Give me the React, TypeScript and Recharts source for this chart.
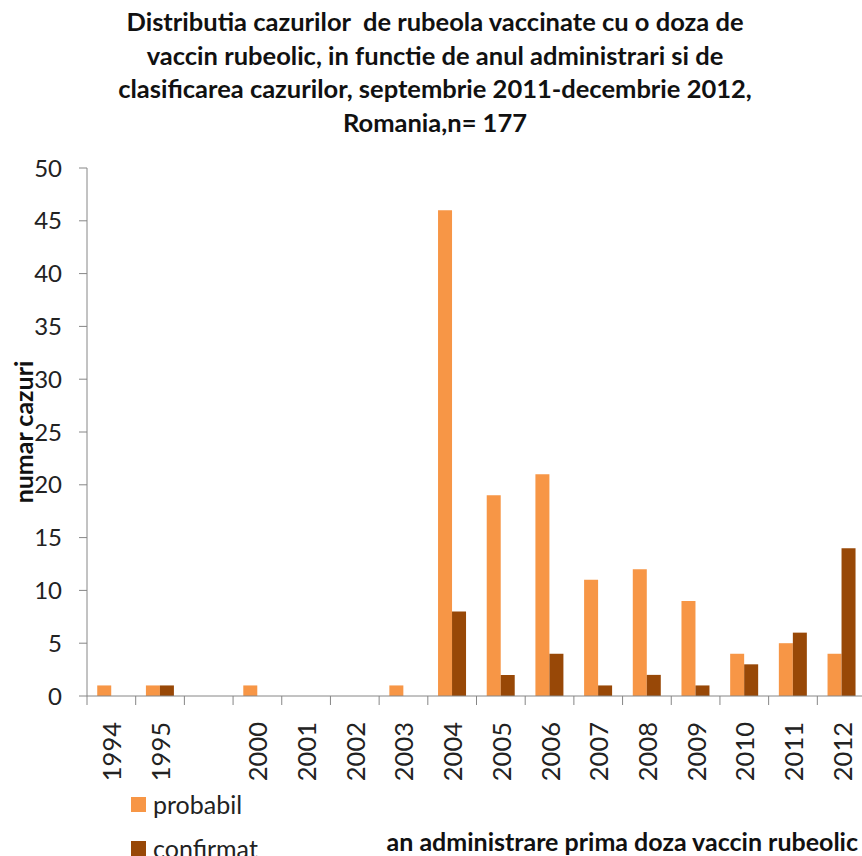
import { BarChart, Bar, XAxis, YAxis } from 'recharts';

const categories = ['1994', '1995', ' ', '2000', '2001', '2002', '2003', '2004', '2005', '2006', '2007', '2008', '2009', '2010', '2011', '2012'];
const probabil = [1, 1, null, 1, 0, 0, 1, 46, 19, 21, 11, 12, 9, 4, 5, 4];
const confirmat = [0, 1, null, 0, 0, 0, 0, 8, 2, 4, 1, 2, 1, 3, 6, 14];
const yTicks = [0, 5, 10, 15, 20, 25, 30, 35, 40, 45, 50];

const ORANGE = '#F79646';
const BROWN = '#984807';
const AXIS = '#868686';
const FONT = 'Lato, "Noto Sans", sans-serif';

const data = categories.map((an, i) => ({ an, probabil: probabil[i], confirmat: confirmat[i] }));

// ticks sit between categories like in excel, label in the middle
const YearTick = (props: any) => {
  const { x, y, payload, index, width, visibleTicksCount } = props;
  const half = payload?.offset ?? width / visibleTicksCount / 2;
  return (
    <g>
      <line x1={x - half} y1={y} x2={x - half} y2={y + 9} stroke={AXIS} />
      {index === visibleTicksCount - 1 && (
        <line x1={x + half} y1={y} x2={x + half} y2={y + 9} stroke={AXIS} />
      )}
      <text
        x={x}
        y={y + 26}
        transform={`rotate(-90 ${x} ${y + 26})`}
        textAnchor="end"
        dominantBaseline="central"
        fontSize={25.5}
        fontFamily={FONT}
        fill="#222"
      >
        {payload.value}
      </text>
    </g>
  );
};

const YLabel = ({ viewBox }: any) => {
  const cy = (viewBox?.y ?? 0) + (viewBox?.height ?? 0) / 2;
  return (
    <text
      x={23}
      y={cy}
      transform={`rotate(-90 23 ${cy})`}
      textAnchor="middle"
      dominantBaseline="central"
      fontSize={25}
      fontWeight={700}
      fontFamily={FONT}
      fill="#111"
    >
      numar cazuri
    </text>
  );
};

const legendItems = [
  { name: 'probabil', color: ORANGE, top: 797 },
  { name: 'confirmat', color: BROWN, top: 841 },
];

export default function App() {
  return (
    <div style={{ position: 'absolute', left: 0, top: 0, width: 862, height: 856, overflow: 'hidden', background: '#fff', fontFamily: FONT }}>
      <div
        style={{
          position: 'absolute',
          left: 8,
          top: 5,
          width: 854,
          textAlign: 'center',
          fontWeight: 700,
          fontSize: 25.5,
          lineHeight: '33.5px',
          color: '#111',
          whiteSpace: 'pre',
        }}
      >
        {'Distributia cazurilor  de rubeola vaccinate cu o doza de\nvaccin rubeolic, in functie de anul administrari si de\nclasificarea cazurilor, septembrie 2011-decembrie 2012,\nRomania,n= 177'}
      </div>

      <BarChart
        width={870}
        height={856}
        data={data}
        margin={{ top: 168, right: 4, bottom: 0, left: 0 }}
        barCategoryGap="21%"
        barGap={0}
      >
        <XAxis
          dataKey="an"
          height={160}
          interval={0}
          tickSize={0}
          tickMargin={0}
          tickLine={false}
          axisLine={{ stroke: AXIS }}
          tick={<YearTick />}
        />
        <YAxis
          width={87}
          domain={[0, 50]}
          ticks={yTicks}
          interval={0}
          tickSize={8}
          tickMargin={17}
          axisLine={{ stroke: AXIS }}
          tickLine={{ stroke: AXIS }}
          tick={{ fontSize: 24, fill: '#222', fontFamily: FONT }}
          label={<YLabel />}
        />
        <Bar dataKey="probabil" fill={ORANGE} isAnimationActive={false} />
        <Bar dataKey="confirmat" fill={BROWN} isAnimationActive={false} />
      </BarChart>

      {legendItems.map((it) => (
        <div key={it.name} style={{ position: 'absolute', left: 131, top: it.top, height: 15, display: 'flex', alignItems: 'center' }}>
          <span style={{ width: 15, height: 15, background: it.color, display: 'inline-block' }} />
          <span style={{ marginLeft: 7, fontSize: 25, color: '#222', lineHeight: '15px' }}>{it.name}</span>
        </div>
      ))}

      <div
        style={{
          position: 'absolute',
          right: 4,
          top: 826,
          fontSize: 25,
          fontWeight: 700,
          color: '#111',
          lineHeight: '30px',
        }}
      >
        an administrare prima doza vaccin rubeolic
      </div>
    </div>
  );
}
